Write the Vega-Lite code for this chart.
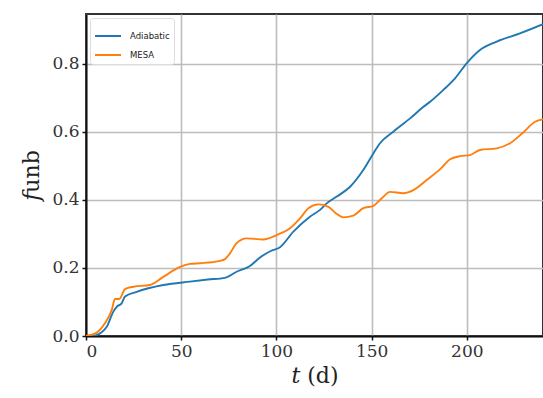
{
  "$schema": "https://vega.github.io/schema/vega-lite/v6.json",
  "width": 457,
  "height": 322,
  "autosize": {"type": "none"},
  "padding": {"left": 86, "top": 14, "right": 0, "bottom": 62},
  "background": "white",
  "config": {
    "view": {"stroke": "#333", "strokeWidth": 2},
    "axis": {
      "labelFont": "DejaVu Serif",
      "labelFontSize": 17,
      "labelColor": "#333",
      "titleFont": "DejaVu Serif",
      "titleFontWeight": "normal",
      "titleColor": "#222",
      "grid": true,
      "gridColor": "#bdbdbd",
      "gridWidth": 1.6,
      "domainColor": "#111",
      "domainWidth": 2,
      "tickColor": "#111",
      "tickWidth": 1.5,
      "tickSize": 4
    }
  },
  "data": {
    "values": [
      {"t": 0, "f": 0, "model": "Adiabatic"},
      {"t": 5, "f": 0.002, "model": "Adiabatic"},
      {"t": 8, "f": 0.01, "model": "Adiabatic"},
      {"t": 10.9, "f": 0.027, "model": "Adiabatic"},
      {"t": 14.3, "f": 0.071, "model": "Adiabatic"},
      {"t": 16.1, "f": 0.086, "model": "Adiabatic"},
      {"t": 18.7, "f": 0.096, "model": "Adiabatic"},
      {"t": 20.5, "f": 0.116, "model": "Adiabatic"},
      {"t": 26.6, "f": 0.13, "model": "Adiabatic"},
      {"t": 40.6, "f": 0.15, "model": "Adiabatic"},
      {"t": 54.6, "f": 0.16, "model": "Adiabatic"},
      {"t": 64, "f": 0.166, "model": "Adiabatic"},
      {"t": 73, "f": 0.171, "model": "Adiabatic"},
      {"t": 79.1, "f": 0.189, "model": "Adiabatic"},
      {"t": 86.1, "f": 0.206, "model": "Adiabatic"},
      {"t": 91.4, "f": 0.231, "model": "Adiabatic"},
      {"t": 97, "f": 0.25, "model": "Adiabatic"},
      {"t": 101.9, "f": 0.261, "model": "Adiabatic"},
      {"t": 108.9, "f": 0.307, "model": "Adiabatic"},
      {"t": 117.6, "f": 0.351, "model": "Adiabatic"},
      {"t": 122.9, "f": 0.371, "model": "Adiabatic"},
      {"t": 126.4, "f": 0.39, "model": "Adiabatic"},
      {"t": 131.7, "f": 0.41, "model": "Adiabatic"},
      {"t": 138.7, "f": 0.439, "model": "Adiabatic"},
      {"t": 145.6, "f": 0.488, "model": "Adiabatic"},
      {"t": 150.9, "f": 0.537, "model": "Adiabatic"},
      {"t": 154.4, "f": 0.567, "model": "Adiabatic"},
      {"t": 161.4, "f": 0.601, "model": "Adiabatic"},
      {"t": 170.2, "f": 0.64, "model": "Adiabatic"},
      {"t": 177.2, "f": 0.674, "model": "Adiabatic"},
      {"t": 180.7, "f": 0.689, "model": "Adiabatic"},
      {"t": 187.7, "f": 0.724, "model": "Adiabatic"},
      {"t": 193.8, "f": 0.758, "model": "Adiabatic"},
      {"t": 199.9, "f": 0.802, "model": "Adiabatic"},
      {"t": 206.9, "f": 0.841, "model": "Adiabatic"},
      {"t": 215.7, "f": 0.866, "model": "Adiabatic"},
      {"t": 227.9, "f": 0.89, "model": "Adiabatic"},
      {"t": 240, "f": 0.917, "model": "Adiabatic"},
      {"t": 0, "f": 0, "model": "MESA"},
      {"t": 5.6, "f": 0.01, "model": "MESA"},
      {"t": 10, "f": 0.038, "model": "MESA"},
      {"t": 13.5, "f": 0.076, "model": "MESA"},
      {"t": 15.2, "f": 0.109, "model": "MESA"},
      {"t": 17.5, "f": 0.109, "model": "MESA"},
      {"t": 20.5, "f": 0.138, "model": "MESA"},
      {"t": 24.9, "f": 0.145, "model": "MESA"},
      {"t": 33.6, "f": 0.15, "model": "MESA"},
      {"t": 40.6, "f": 0.174, "model": "MESA"},
      {"t": 49.4, "f": 0.203, "model": "MESA"},
      {"t": 54.6, "f": 0.212, "model": "MESA"},
      {"t": 59.9, "f": 0.214, "model": "MESA"},
      {"t": 70.4, "f": 0.221, "model": "MESA"},
      {"t": 73, "f": 0.226, "model": "MESA"},
      {"t": 75.6, "f": 0.243, "model": "MESA"},
      {"t": 79.1, "f": 0.273, "model": "MESA"},
      {"t": 84.4, "f": 0.287, "model": "MESA"},
      {"t": 93.1, "f": 0.284, "model": "MESA"},
      {"t": 100.2, "f": 0.297, "model": "MESA"},
      {"t": 107.1, "f": 0.317, "model": "MESA"},
      {"t": 112.4, "f": 0.346, "model": "MESA"},
      {"t": 116.8, "f": 0.376, "model": "MESA"},
      {"t": 122, "f": 0.387, "model": "MESA"},
      {"t": 127.3, "f": 0.38, "model": "MESA"},
      {"t": 131, "f": 0.362, "model": "MESA"},
      {"t": 135.1, "f": 0.349, "model": "MESA"},
      {"t": 140.4, "f": 0.354, "model": "MESA"},
      {"t": 145.6, "f": 0.376, "model": "MESA"},
      {"t": 150.9, "f": 0.383, "model": "MESA"},
      {"t": 155.3, "f": 0.405, "model": "MESA"},
      {"t": 159.7, "f": 0.424, "model": "MESA"},
      {"t": 166.7, "f": 0.42, "model": "MESA"},
      {"t": 171.9, "f": 0.429, "model": "MESA"},
      {"t": 178.9, "f": 0.459, "model": "MESA"},
      {"t": 185.9, "f": 0.49, "model": "MESA"},
      {"t": 191.2, "f": 0.52, "model": "MESA"},
      {"t": 196.4, "f": 0.529, "model": "MESA"},
      {"t": 201.6, "f": 0.532, "model": "MESA"},
      {"t": 206.9, "f": 0.547, "model": "MESA"},
      {"t": 215.7, "f": 0.552, "model": "MESA"},
      {"t": 222.7, "f": 0.567, "model": "MESA"},
      {"t": 229.5, "f": 0.598, "model": "MESA"},
      {"t": 235.8, "f": 0.63, "model": "MESA"},
      {"t": 240, "f": 0.637, "model": "MESA"}
    ]
  },
  "mark": {"type": "line", "strokeWidth": 1.9, "interpolate": "monotone", "clip": true},
  "encoding": {
    "x": {
      "field": "t",
      "type": "quantitative",
      "scale": {"domain": [0, 240], "nice": false, "zero": false},
      "axis": {
        "values": [0, 50, 100, 150, 200],
        "format": "d",
        "title": "𝑡 (d)",
        "titleFontSize": 22,
        "titlePadding": 6,
        "labelPadding": 3
      }
    },
    "y": {
      "field": "f",
      "type": "quantitative",
      "scale": {"domain": [0, 0.947], "nice": false, "zero": false},
      "axis": {
        "values": [0, 0.2, 0.4, 0.6, 0.8],
        "format": ".1f",
        "title": "𝑓unb",
        "titleFontSize": 22,
        "titlePadding": 8,
        "labelPadding": 3
      }
    },
    "color": {
      "field": "model",
      "type": "nominal",
      "scale": {"domain": ["Adiabatic", "MESA"], "range": ["#1f77b4", "#ff7f0e"]},
      "legend": {
        "title": null,
        "orient": "top-left",
        "offset": 4,
        "symbolType": "stroke",
        "symbolSize": 676,
        "symbolStrokeWidth": 2,
        "labelFont": "DejaVu Sans",
        "labelFontSize": 8.5,
        "labelOffset": 8,
        "labelColor": "#222",
        "strokeColor": "#dddddd",
        "fillColor": "white",
        "cornerRadius": 3,
        "padding": 4,
        "rowPadding": -14
      }
    }
  }
}
